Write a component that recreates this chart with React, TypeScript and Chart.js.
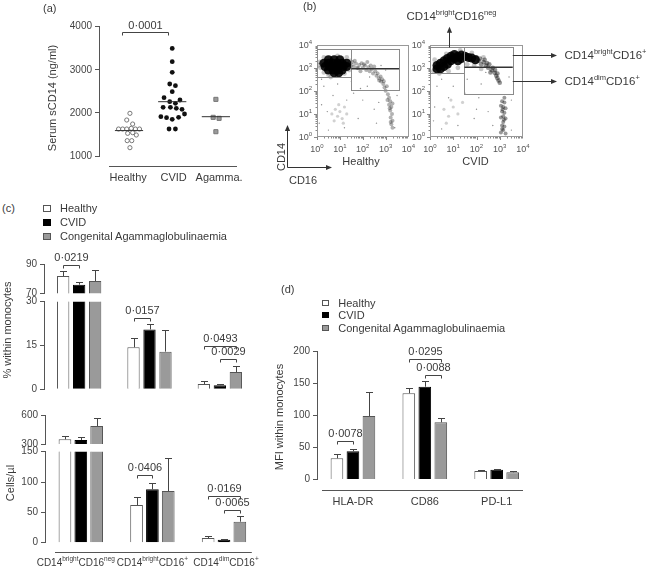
import React, { useEffect, useRef } from 'react';
import { Chart, registerables } from 'chart.js';

Chart.register(...registerables);

const FONT = "'Liberation Sans', Arial, Helvetica, sans-serif";
const TEXT = '#3a3a3a';
const TICK = '#444444';
const AXIS = '#555555';

/* ---------------- Panel (a): serum sCD14 ---------------- */
const aCategories = ['Healthy', 'CVID', 'Agamma.'];
const aYTicks = [1000, 2000, 3000, 4000];
const aHealthy = [1990, 1835, 1742, 1626, 1626, 1626, 1642, 1626, 1626, 1526, 1541, 1487, 1356, 1356, 1193];
const aHealthyJitter = [0.04, -0.03, 0.1, -0.21, -0.12, -0.03, 0.07, 0.16, 0.25, -0.01, 0.1, 0.18, -0.02, 0.08, 0.04];
const aCVID = [3497, 3188, 2941, 2670, 2631, 2492, 2353, 2299, 2260, 2222, 2129, 2129, 2106, 2083, 1912, 1889, 1851, 1897, 1974, 1626, 1626];
const aCVIDJitter = [-0.03, -0.03, -0.03, -0.085, 0.04, -0.03, -0.21, 0.14, -0.085, 0.04, -0.23, -0.07, 0.06, 0.185, -0.28, -0.155, -0.03, 0.11, 0.24, -0.1, 0.04];
const aAgamma = [2314, 1897, 1874, 1564];
const aAgammaJitter = [-0.07, -0.13, 0.0, -0.07];
const aMedians = [1590, 2260, 1912];
const aMedianShift = [0.02, -0.03, -0.07];
const aBrackets: [number, number, number, string][] = [[1, 2, 3870, '0·0001']];

/* ---------------- Panel (b): flow cytometry events as [log10 CD16, log10 CD14] ---------------- */
const bTickExponents = [0, 1, 2, 3, 4];

const bHealthyCore = [
  [0.5, 3.35], [0.75, 3.35], [1.0, 3.35],
  [0.3, 3.2], [0.5, 3.2], [0.7, 3.2], [0.9, 3.2], [1.1, 3.2], [1.3, 3.2],
  [0.35, 3.05], [0.55, 3.05], [0.75, 3.05], [0.95, 3.05], [1.15, 3.05], [1.3, 3.05],
  [0.5, 2.9], [0.7, 2.9], [0.9, 2.9], [1.1, 2.9],
  [0.75, 2.78], [0.95, 2.78],
];
const bHealthyHalo = [[0.12, 3.25], [0.15, 3.0], [0.3, 2.8], [0.5, 2.7], [1.2, 2.75], [1.4, 2.9], [1.45, 3.3], [1.3, 3.45], [0.3, 3.45], [0.9, 3.52], [0.6, 2.6], [1.5, 3.12], [0.05, 3.1]];
const bHealthyTail = [
  [1.55, 3.25], [1.6, 3.05], [1.7, 3.18], [1.8, 2.98], [1.85, 3.12], [1.95, 3.2], [2.0, 3.0], [2.1, 3.1], [2.15, 2.9], [2.25, 3.02],
  [2.3, 2.85], [2.4, 2.95], [2.45, 2.75], [2.55, 2.85], [2.6, 2.65], [2.65, 2.75], [2.7, 2.55], [2.78, 2.62], [2.8, 2.4], [2.85, 2.5],
  [2.9, 2.3], [2.95, 2.15], [3.0, 2.0], [3.05, 2.2], [3.1, 1.85], [3.15, 1.7], [3.2, 1.55], [3.15, 1.4], [3.25, 1.3], [3.2, 1.15],
  [3.28, 1.0], [3.22, 0.85], [3.3, 0.7], [3.25, 0.55], [3.3, 0.4], [3.18, 1.25], [3.3, 1.45], [2.2, 3.25], [1.9, 2.85], [2.5, 3.05],
  [1.65, 3.3], [1.75, 3.0], [2.05, 3.15], [2.35, 3.1], [2.72, 2.45], [2.92, 2.42], [3.08, 1.6], [3.22, 0.65],
];
const bHealthyLow = [[0.65, 1.0], [0.8, 1.2], [0.9, 0.9], [1.0, 1.1], [1.1, 0.8], [1.2, 1.3], [0.75, 0.7], [1.3, 1.0], [0.95, 1.4], [1.15, 0.6]];
const bHealthySparse = [[0.3, 2.2], [0.7, 1.8], [1.5, 2.4], [2.0, 1.6], [1.2, 0.4], [2.5, 1.2], [0.2, 1.4], [1.8, 0.8], [2.8, 3.1], [2.2, 2.2], [0.5, 0.3], [3.5, 1.8], [1.6, 1.9], [2.6, 0.6], [0.1, 0.6], [3.0, 2.9], [1.3, 1.6], [0.9, 2.3], [2.3, 2.6], [3.4, 0.4], [0.45, 1.1], [1.9, 2.1], [2.7, 1.5], [0.2, 2.5]];
const bHealthyGateA = [0, 1.5, 2.58, 3.83];
const bHealthyGateB = [1.5, 3.59, 2.02, 3.83];
const bHealthySplit = [2.96];

const bCVIDCore = [
  [0.3, 3.1], [0.45, 2.95], [0.45, 3.2], [0.6, 3.05], [0.6, 3.3], [0.75, 3.15], [0.75, 3.4], [0.9, 3.3], [0.9, 3.5], [1.05, 3.4],
  [1.05, 3.58], [1.2, 3.5], [1.35, 3.55], [1.35, 3.4], [1.5, 3.5], [1.65, 3.45], [1.8, 3.42], [1.95, 3.35], [0.3, 2.95], [1.2, 3.3],
];
const bCVIDHalo = [[0.15, 2.85], [0.4, 2.75], [0.8, 2.85], [1.2, 3.0], [1.6, 3.15], [1.9, 3.1], [2.2, 2.95], [0.7, 3.6], [1.3, 3.75], [1.8, 3.65], [2.3, 3.45], [0.2, 3.35]];
const bCVIDTail = [
  [2.1, 3.3], [2.2, 3.15], [2.3, 3.25], [2.4, 3.1], [2.5, 3.0], [2.55, 3.15], [2.65, 2.9], [2.7, 3.0], [2.78, 2.78], [2.85, 2.65],
  [2.9, 2.55], [2.95, 2.45], [3.0, 2.35], [2.0, 3.45], [2.6, 2.8], [2.8, 2.9], [2.15, 3.4], [2.35, 3.35], [2.45, 3.2], [2.9, 2.75],
];
const bCVIDStreak = [[3.1, 1.55], [3.2, 1.5], [3.05, 1.35], [3.15, 1.3], [3.25, 1.25], [3.1, 1.1], [3.2, 1.05], [3.15, 0.9], [3.05, 0.85], [3.25, 0.8], [3.15, 0.65], [3.1, 0.5], [3.2, 0.45], [3.15, 0.3], [3.05, 0.2], [3.25, 0.15], [3.2, 1.7], [3.12, 1.2], [3.18, 0.75], [3.1, 0.35]];
const bCVIDLow = [[0.6, 1.2], [0.8, 0.9], [1.0, 1.3], [1.2, 1.0], [0.7, 0.6], [1.4, 1.5], [0.9, 1.6]];
const bCVIDSparse = [[0.3, 2.2], [0.8, 1.7], [1.6, 2.5], [2.1, 1.7], [1.2, 0.5], [2.5, 1.1], [0.2, 1.3], [1.9, 0.8], [2.2, 2.3], [0.5, 0.35], [3.5, 1.6], [1.5, 1.9], [2.7, 0.5], [0.15, 0.7], [3.4, 2.6], [1.0, 2.2], [2.4, 2.8], [3.5, 0.3], [0.5, 2.5], [2.0, 1.2]];
const bCVIDGateA = [0, 1.48, 2.77, 3.88];
const bCVIDGateB = [1.48, 3.56, 1.88, 3.88];
const bCVIDSplit = [3.02];
const bPointerX = [0.8];
const bPointerLevels = [3.54, 2.44];

/* ---------------- Panels (c) and (d): bar charts ---------------- */
const seriesNames = ['Healthy', 'CVID', 'Congenital Agammaglobulinaemia'];
const seriesFill = ['#ffffff', '#000000', '#9a9a9a'];
const seriesBorder = ['#555555', '#000000', '#555555'];

const subsetCategories = ['CD14brightCD16neg', 'CD14brightCD16+', 'CD14dimCD16+'];
const subsetLabelParts = [['CD14', 'bright', 'CD16', 'neg'], ['CD14', 'bright', 'CD16', '+'], ['CD14', 'dim', 'CD16', '+']];

const pctHealthy = [81.8, 14.4, 1.8];
const pctHealthyErr = [3.4, 3.1, 1.0];
const pctCVID = [75.9, 20.5, 1.4];
const pctCVIDErr = [1.6, 1.8, 0.3];
const pctAgamma = [78.4, 12.9, 5.9];
const pctAgammaErr = [7.5, 7.4, 2.2];
const pctUpperTicks = [70, 90];
const pctLowerTicks = [0, 15, 30];
const pctBrackets: [number, number, number, number, string][] = [
  [0, 0, 1, 89.3, '0·0219'],
  [1, 0, 1, 24.3, '0·0157'],
  [2, 0, 2, 14.9, '0·0493'],
  [2, 1, 2, 10.4, '0·0029'],
];

const cellsHealthy = [348.6, 62.1, 7.7];
const cellsHealthyErr = [34, 13.2, 3.8];
const cellsCVID = [341.4, 88, 5];
const cellsCVIDErr = [27.6, 10.4, 1.6];
const cellsAgamma = [486, 85.2, 34.6];
const cellsAgammaErr = [80, 53.8, 9.4];
const cellsUpperTicks = [300, 600];
const cellsLowerTicks = [0, 50, 100, 150];
const cellsBrackets: [number, number, number, number, string][] = [
  [1, 0, 1, 111.6, '0·0406'],
  [2, 0, 2, 77.5, '0·0169'],
  [2, 1, 2, 53.9, '0·0065'],
];

const mfiCategories = ['HLA-DR', 'CD86', 'PD-L1'];
const mfiHealthy = [33, 134.2, 13.2];
const mfiHealthyErr = [6.7, 8.7, 1.6];
const mfiCVID = [43.9, 144.4, 15.3];
const mfiCVIDErr = [3.1, 8.9, 1.0];
const mfiAgamma = [98.8, 89, 11.2];
const mfiAgammaErr = [37.9, 6.3, 1.6];
const mfiTicks = [0, 50, 100, 150, 200];
const mfiBrackets: [number, number, number, number, string][] = [
  [0, 0, 1, 60, '0·0078'],
  [1, 0, 2, 187, '0·0295'],
  [1, 1, 2, 162.6, '0·0088'],
];

/* ---------------- helpers ---------------- */
type Box = { x: number; y: number; w: number; h: number };
type Area = { l: number; t: number; r: number; b: number };

function padFor(box: Box, area: Area, yW: number, xH: number) {
  return {
    left: area.l - box.x - yW,
    top: area.t - box.y,
    right: box.x + box.w - area.r,
    bottom: box.y + box.h - area.b - xH,
  };
}

const f = (size: number) => `${size}px ${FONT}`;

function drawRich(ctx: CanvasRenderingContext2D, parts: string[], x: number, y: number, size: number, sup: number, align: 'left' | 'center' | 'right', color: string) {
  ctx.save();
  const widths = parts.map((p, i) => {
    ctx.font = f(i % 2 ? sup : size);
    return ctx.measureText(p).width;
  });
  const total = widths.reduce((s, w) => s + w, 0);
  let cx = align === 'center' ? x - total / 2 : align === 'right' ? x - total : x;
  ctx.textAlign = 'left';
  ctx.textBaseline = 'middle';
  ctx.fillStyle = color;
  parts.forEach((p, i) => {
    ctx.font = f(i % 2 ? sup : size);
    ctx.fillText(p, cx, i % 2 ? y - size * 0.38 : y);
    cx += widths[i];
  });
  ctx.restore();
}

function arrowHead(ctx: CanvasRenderingContext2D, x: number, y: number, dir: 'up' | 'right') {
  const len = 6, half = 2.6;
  ctx.beginPath();
  if (dir === 'up') {
    ctx.moveTo(x, y); ctx.lineTo(x - half, y + len); ctx.lineTo(x + half, y + len);
  } else {
    ctx.moveTo(x, y); ctx.lineTo(x - len, y - half); ctx.lineTo(x - len, y + half);
  }
  ctx.closePath();
  ctx.fill();
}

function errorsPlugin(errors: number[][], max: number) {
  return {
    id: 'errorBars',
    afterDatasetsDraw(chart: any) {
      const { ctx, chartArea: a } = chart;
      const ys = chart.scales.y;
      ctx.save();
      ctx.beginPath();
      ctx.rect(a.left - 10, a.top - 1, a.right - a.left + 20, a.bottom - a.top + 1);
      ctx.clip();
      ctx.strokeStyle = '#444';
      ctx.lineWidth = 1;
      chart.data.datasets.forEach((ds: any, i: number) => {
        const meta = chart.getDatasetMeta(i);
        ds.data.forEach((v: number | null, j: number) => {
          if (v == null || v >= max) return;
          const el = meta.data[j];
          const x = Math.round(el.x) + 0.5;
          const y0 = ys.getPixelForValue(v);
          const y1 = Math.round(ys.getPixelForValue(v + errors[i][j])) + 0.5;
          ctx.beginPath();
          ctx.moveTo(x, y0);
          ctx.lineTo(x, y1);
          ctx.moveTo(x - 3.5, y1);
          ctx.lineTo(x + 3.5, y1);
          ctx.stroke();
        });
      });
      ctx.restore();
    },
  };
}

function bracketsPlugin(brackets: [number, number, number, number, string][], min: number, max: number) {
  return {
    id: 'brackets',
    afterDraw(chart: any) {
      const { ctx } = chart;
      const ys = chart.scales.y;
      ctx.save();
      ctx.strokeStyle = '#444';
      ctx.fillStyle = TEXT;
      ctx.lineWidth = 1;
      ctx.font = f(11);
      ctx.textAlign = 'center';
      ctx.textBaseline = 'middle';
      brackets
        .filter((b) => b[3] >= min && b[3] <= max)
        .forEach(([g, s1, s2, lvl, txt]) => {
          const x1 = Math.round(chart.getDatasetMeta(s1).data[g].x) + 0.5;
          const x2 = Math.round(chart.getDatasetMeta(s2).data[g].x) + 0.5;
          const py = Math.round(ys.getPixelForValue(lvl)) + 0.5;
          ctx.beginPath();
          ctx.moveTo(x1, py + 3);
          ctx.lineTo(x1, py);
          ctx.lineTo(x2, py);
          ctx.lineTo(x2, py + 3);
          ctx.stroke();
          ctx.fillText(txt, (x1 + x2) / 2, py - 8);
        });
      ctx.restore();
    },
  };
}

interface SegSpec {
  box: Box;
  area: Area;
  yW: number;
  xH?: number;
  categories: string[];
  values: number[][];
  errors: number[][];
  min: number;
  max: number;
  ticks: number[];
  catPct: number;
  barPct: number;
  brackets: [number, number, number, number, string][];
  xTicks?: boolean;
  xTickPad?: number;
  extra?: (chart: any) => void;
}

function buildBarSegment(s: SegSpec) {
  const xH = s.xH ?? 0;
  return {
    type: 'bar',
    data: {
      labels: s.categories,
      datasets: s.values.map((vals, i) => ({
        label: seriesNames[i],
        data: vals.map((v) => (v >= s.min ? v : null)),
        backgroundColor: seriesFill[i],
        borderColor: seriesBorder[i],
        borderWidth: 1,
        categoryPercentage: s.catPct,
        barPercentage: s.barPct,
        clip: { left: 10, right: 10, top: 0, bottom: 0 },
      })),
    },
    options: {
      animation: false,
      responsive: false,
      maintainAspectRatio: false,
      layout: { padding: padFor(s.box, s.area, s.yW, xH) },
      plugins: { legend: { display: false }, tooltip: { enabled: false } },
      scales: {
        x: s.xTicks
          ? {
              ticks: { font: { family: FONT, size: 11 }, color: TEXT, padding: s.xTickPad, maxRotation: 0, autoSkip: false },
              grid: { display: false, drawTicks: false },
              border: { display: false },
              afterFit: (sc: any) => { sc.height = xH; sc.paddingLeft = 0; sc.paddingRight = 0; },
            }
          : { display: false },
        y: {
          min: s.min,
          max: s.max,
          afterBuildTicks: (sc: any) => { sc.ticks = s.ticks.map((v) => ({ value: v })); },
          afterFit: (sc: any) => { sc.width = s.yW; sc.paddingTop = 0; sc.paddingBottom = 0; },
          ticks: { font: { family: FONT, size: 10 }, color: TICK, padding: 3, callback: (v: any) => String(v) },
          grid: { drawOnChartArea: false, drawTicks: true, tickLength: 4, color: AXIS },
          border: { display: true, color: AXIS, width: 1 },
        },
      },
    },
    plugins: [
      errorsPlugin(s.errors, s.max),
      bracketsPlugin(s.brackets, s.min, s.max),
      { id: 'extra', afterDraw: (c: any) => s.extra && s.extra(c) },
    ],
  };
}

function xAxisLine(chart: any, offset: number, insetL: number, insetR: number) {
  const { ctx, chartArea: a } = chart;
  ctx.save();
  ctx.strokeStyle = AXIS;
  ctx.lineWidth = 1;
  const ly = Math.round(a.bottom + offset) + 0.5;
  ctx.beginPath();
  ctx.moveTo(a.left + insetL, ly);
  ctx.lineTo(a.right - insetR, ly);
  ctx.stroke();
  ctx.restore();
}

/* ---------------- Panel (a) ---------------- */
const boxA: Box = { x: 0, y: 0, w: 262, h: 200 };
function buildA() {
  const area: Area = { l: 99, t: 26.7, r: 240, b: 156 };
  const xH = 44, yW = 45;
  const medianDs = aMedians.map((m, i) => ({
    label: aCategories[i] + ' median',
    data: [{ x: i + 1 + aMedianShift[i] - 0.31, y: m }, { x: i + 1 + aMedianShift[i] + 0.31, y: m }],
    showLine: true,
    borderColor: '#333',
    borderWidth: 1,
    pointRadius: 0,
    order: -1,
  }));
  return {
    type: 'scatter',
    data: {
      datasets: [
        ...medianDs,
        {
          label: 'Healthy',
          data: aHealthy.map((v, i) => ({ x: 1 + aHealthyJitter[i], y: v })),
          pointStyle: 'circle', pointRadius: 2.1, pointBackgroundColor: '#fff', pointBorderColor: '#777', pointBorderWidth: 1,
        },
        {
          label: 'CVID',
          data: aCVID.map((v, i) => ({ x: 2 + aCVIDJitter[i], y: v })),
          pointStyle: 'circle', pointRadius: 2.4, pointBackgroundColor: '#111', pointBorderColor: '#111', pointBorderWidth: 0,
        },
        {
          label: 'Agamma.',
          data: aAgamma.map((v, i) => ({ x: 3 + aAgammaJitter[i], y: v })),
          pointStyle: 'rect', pointRadius: 2.9, pointBackgroundColor: '#9a9a9a', pointBorderColor: '#777', pointBorderWidth: 1,
        },
      ],
    },
    options: {
      animation: false,
      responsive: false,
      maintainAspectRatio: false,
      layout: { padding: padFor(boxA, area, yW, xH) },
      plugins: { legend: { display: false }, tooltip: { enabled: false } },
      scales: {
        x: {
          type: 'linear',
          min: 0.36,
          max: 3.46,
          afterBuildTicks: (sc: any) => { sc.ticks = [1, 2, 3].map((v) => ({ value: v })); },
          afterFit: (sc: any) => { sc.height = xH; sc.paddingLeft = 0; sc.paddingRight = 0; },
          ticks: {
            callback: (v: any) => aCategories[Math.round(Number(v)) - 1],
            font: { family: FONT, size: 11 }, color: TEXT, padding: 15.4, maxRotation: 0, autoSkip: false,
          },
          grid: { display: false, drawTicks: false },
          border: { display: false },
        },
        y: {
          min: 1000,
          max: 4000,
          afterBuildTicks: (sc: any) => { sc.ticks = aYTicks.map((v) => ({ value: v })); },
          afterFit: (sc: any) => { sc.width = yW; sc.paddingTop = 0; sc.paddingBottom = 0; },
          ticks: { font: { family: FONT, size: 10 }, color: TICK, padding: 3, callback: (v: any) => String(v) },
          grid: { drawOnChartArea: false, drawTicks: true, tickLength: 4, color: AXIS },
          border: { display: true, color: AXIS },
        },
      },
    },
    plugins: [
      {
        id: 'aExtras',
        afterDraw(chart: any) {
          const { ctx, scales } = chart;
          xAxisLine(chart, 10, 10, 3);
          ctx.save();
          ctx.strokeStyle = '#444';
          ctx.fillStyle = TEXT;
          ctx.lineWidth = 1;
          ctx.font = f(11);
          ctx.textAlign = 'center';
          ctx.textBaseline = 'middle';
          aBrackets.forEach(([c1, c2, lvl, txt]) => {
            const x1 = Math.round(scales.x.getPixelForValue(c1 - 0.13)) + 0.5;
            const x2 = Math.round(scales.x.getPixelForValue(c2 - 0.13)) + 0.5;
            const py = Math.round(scales.y.getPixelForValue(lvl)) + 0.5;
            ctx.beginPath();
            ctx.moveTo(x1, py + 3); ctx.lineTo(x1, py); ctx.lineTo(x2, py); ctx.lineTo(x2, py + 3);
            ctx.stroke();
            ctx.fillText(txt, (x1 + x2) / 2, py - 7);
          });
          ctx.restore();
        },
      },
    ],
  };
}

/* ---------------- Panel (b) ---------------- */
type Layer = { pts: number[][]; r: number; color: string };
function buildFlow(box: Box, area: Area, layers: Layer[], gateA: number[], gateB: number[], split: number, extra: (c: any) => void) {
  return {
    type: 'scatter',
    data: {
      datasets: layers.map((ly, i) => ({
        label: 'events' + i,
        data: ly.pts.map(([lx, lyv]) => ({ x: Math.pow(10, lx), y: Math.pow(10, lyv) })),
        pointRadius: ly.r,
        pointBackgroundColor: ly.color,
        pointBorderWidth: 0,
        pointBorderColor: 'rgba(0,0,0,0)',
        order: layers.length - i,
      })),
    },
    options: {
      animation: false,
      responsive: false,
      maintainAspectRatio: false,
      layout: { padding: padFor(box, area, 0, 0) },
      plugins: { legend: { display: false }, tooltip: { enabled: false } },
      scales: {
        x: { type: 'logarithmic', min: 1, max: 10000, display: false },
        y: { type: 'logarithmic', min: 1, max: 10000, display: false },
      },
    },
    plugins: [
      {
        id: 'flowExtras',
        afterDraw(chart: any) {
          const { ctx, chartArea: a, scales } = chart;
          const px = (e: number) => scales.x.getPixelForValue(Math.pow(10, e));
          const py = (e: number) => scales.y.getPixelForValue(Math.pow(10, e));
          ctx.save();
          ctx.strokeStyle = '#999';
          ctx.lineWidth = 1;
          ctx.strokeRect(Math.round(a.left) + 0.5, Math.round(a.top) + 0.5, Math.round(a.right - a.left) - 1, Math.round(a.bottom - a.top) - 1);
          ctx.strokeStyle = '#888';
          ctx.beginPath();
          for (let k = 0; k < 4; k++) {
            for (let m = 1; m <= 9; m++) {
              const v = Math.log10(m * Math.pow(10, k));
              const len = m === 1 ? 3 : 1.5;
              const xx = Math.round(px(v)) + 0.5;
              ctx.moveTo(xx, a.bottom); ctx.lineTo(xx, a.bottom + len);
              const yy = Math.round(py(v)) + 0.5;
              ctx.moveTo(a.left, yy); ctx.lineTo(a.left - len, yy);
            }
          }
          ctx.stroke();
          ctx.strokeStyle = '#8a8a8a';
          const rect = (g: number[]) => {
            const x0 = Math.round(px(g[0])) + 0.5, x1 = Math.round(px(g[1])) + 0.5;
            const y0 = Math.round(py(g[3])) + 0.5, y1 = Math.round(py(g[2])) + 0.5;
            ctx.strokeRect(x0, y0, x1 - x0, y1 - y0);
          };
          rect(gateA);
          rect(gateB);
          ctx.strokeStyle = '#333';
          ctx.lineWidth = 1.4;
          ctx.beginPath();
          ctx.moveTo(px(gateB[0]), py(split));
          ctx.lineTo(px(gateB[1]), py(split));
          ctx.stroke();
          bTickExponents.forEach((e) => {
            ctx.font = f(9);
            const w1 = ctx.measureText('10').width;
            ctx.font = f(6);
            const w2 = ctx.measureText(String(e)).width;
            drawRich(ctx, ['10', String(e)], px(e) - (w1 + w2) / 2, a.bottom + 12.5, 9, 6, 'left', '#555');
            drawRich(ctx, ['10', String(e)], a.left - 5, py(e) + 1, 9, 6, 'right', '#555');
          });
          ctx.restore();
          extra(chart);
        },
      },
    ],
  };
}

const boxB1: Box = { x: 270, y: 0, w: 150, h: 200 };
const boxB2: Box = { x: 400, y: 0, w: 247, h: 200 };
function buildB1() {
  const area: Area = { l: 317, t: 44.7, r: 408.5, b: 137 };
  return buildFlow(
    boxB1,
    area,
    [
      { pts: bHealthySparse, r: 0.7, color: 'rgba(0,0,0,0.45)' },
      { pts: bHealthyLow, r: 1.6, color: 'rgba(0,0,0,0.18)' },
      { pts: bHealthyHalo, r: 2.4, color: 'rgba(0,0,0,0.22)' },
      { pts: bHealthyTail, r: 2, color: 'rgba(0,0,0,0.3)' },
      { pts: bHealthyCore, r: 4.5, color: 'rgba(0,0,0,0.9)' },
    ],
    bHealthyGateA,
    bHealthyGateB,
    bHealthySplit[0],
    (chart: any) => {
      const { ctx, chartArea: a } = chart;
      ctx.save();
      ctx.strokeStyle = '#333';
      ctx.fillStyle = '#333';
      ctx.lineWidth = 1;
      const ox = Math.round(a.left - 30.3) + 0.5;
      const oy = Math.round(a.bottom + 29.7) + 0.5;
      ctx.beginPath();
      ctx.moveTo(ox, oy); ctx.lineTo(ox, a.bottom - 10);
      ctx.moveTo(ox, oy); ctx.lineTo(a.left + 13, oy);
      ctx.stroke();
      arrowHead(ctx, ox, a.bottom - 12, 'up');
      arrowHead(ctx, a.left + 15, oy, 'right');
      ctx.restore();
    }
  );
}
function buildB2() {
  const area: Area = { l: 430, t: 44.7, r: 523, b: 137 };
  return buildFlow(
    boxB2,
    area,
    [
      { pts: bCVIDSparse, r: 0.7, color: 'rgba(0,0,0,0.45)' },
      { pts: bCVIDLow, r: 1.6, color: 'rgba(0,0,0,0.18)' },
      { pts: bCVIDHalo, r: 2.4, color: 'rgba(0,0,0,0.22)' },
      { pts: bCVIDStreak, r: 2, color: 'rgba(0,0,0,0.4)' },
      { pts: bCVIDTail, r: 2.3, color: 'rgba(0,0,0,0.42)' },
      { pts: bCVIDCore, r: 4.5, color: 'rgba(0,0,0,0.9)' },
    ],
    bCVIDGateA,
    bCVIDGateB,
    bCVIDSplit[0],
    (chart: any) => {
      const { ctx, chartArea: a, scales } = chart;
      const px = (e: number) => scales.x.getPixelForValue(Math.pow(10, e));
      const py = (e: number) => scales.y.getPixelForValue(Math.pow(10, e));
      ctx.save();
      ctx.strokeStyle = '#333';
      ctx.fillStyle = '#333';
      ctx.lineWidth = 1;
      const ux = Math.round(px(bPointerX[0])) + 0.5;
      ctx.beginPath();
      ctx.moveTo(ux, py(bCVIDGateA[3]));
      ctx.lineTo(ux, a.top - 15);
      ctx.stroke();
      arrowHead(ctx, ux, a.top - 18, 'up');
      drawRich(ctx, ['CD14', 'bright', 'CD16', 'neg'], ux + 2, a.top - 27.4, 11.5, 7.5, 'center', TEXT);
      bPointerLevels.forEach((lv, i) => {
        const yy = Math.round(py(lv)) + 0.5;
        const x0 = px(bCVIDGateB[1]);
        const x1 = a.right + 34;
        ctx.beginPath();
        ctx.moveTo(x0, yy);
        ctx.lineTo(x1 - 4, yy);
        ctx.stroke();
        arrowHead(ctx, x1, yy, 'right');
        drawRich(ctx, i === 0 ? ['CD14', 'bright', 'CD16', '+'] : ['CD14', 'dim', 'CD16', '+'], x1 + 7.5, yy + 0.5, 11.5, 7.5, 'left', TEXT);
      });
      ctx.restore();
    }
  );
}

/* ---------------- Panel (c) ---------------- */
const pctValues = [pctHealthy, pctCVID, pctAgamma];
const pctErrors = [pctHealthyErr, pctCVIDErr, pctAgammaErr];
const cellsValues = [cellsHealthy, cellsCVID, cellsAgamma];
const cellsErrors = [cellsHealthyErr, cellsCVIDErr, cellsAgammaErr];

const boxC1t: Box = { x: 0, y: 245, w: 262, h: 58 };
const boxC1b: Box = { x: 0, y: 290, w: 262, h: 106 };
const boxC2t: Box = { x: 0, y: 400, w: 266, h: 52 };
const boxC2b: Box = { x: 0, y: 440, w: 266, h: 130 };

const cUpperArea = { l: 44, r: 255 };
const cLowerArea = { l: 45, r: 259.8 };
const cLabelNudge = [-5, 0, 2];

function buildC1t() {
  return buildBarSegment({
    box: boxC1t, area: { ...cUpperArea, t: 264, b: 293.3 }, yW: 44,
    categories: subsetCategories, values: pctValues, errors: pctErrors,
    min: 70, max: 90, ticks: pctUpperTicks, catPct: 0.682, barPct: 0.77, brackets: pctBrackets,
  });
}
function buildC1b() {
  return buildBarSegment({
    box: boxC1b, area: { ...cUpperArea, t: 301.7, b: 389.3 }, yW: 44,
    categories: subsetCategories, values: pctValues, errors: pctErrors,
    min: 0, max: 30, ticks: pctLowerTicks, catPct: 0.682, barPct: 0.77, brackets: pctBrackets,
  });
}
function buildC2t() {
  return buildBarSegment({
    box: boxC2t, area: { ...cLowerArea, t: 415, b: 444 }, yW: 45,
    categories: subsetCategories, values: cellsValues, errors: cellsErrors,
    min: 300, max: 600, ticks: cellsUpperTicks, catPct: 0.664, barPct: 0.8, brackets: cellsBrackets,
  });
}
function buildC2b() {
  return buildBarSegment({
    box: boxC2b, area: { ...cLowerArea, t: 451.7, b: 542.7 }, yW: 45,
    categories: subsetCategories, values: cellsValues, errors: cellsErrors,
    min: 0, max: 150, ticks: cellsLowerTicks, catPct: 0.664, barPct: 0.8, brackets: cellsBrackets,
    extra: (chart: any) => {
      xAxisLine(chart, 9, 10, 8);
      const { ctx, chartArea: a, scales } = chart;
      subsetLabelParts.forEach((parts, i) => {
        drawRich(ctx, parts, scales.x.getPixelForValue(i) + cLabelNudge[i], a.bottom + 20.5, 10, 6.5, 'center', TEXT);
      });
    },
  });
}

/* ---------------- Panel (d) ---------------- */
const boxD: Box = { x: 280, y: 340, w: 262, h: 176 };
function buildD() {
  const area: Area = { l: 317, t: 351, r: 532.6, b: 479.5 };
  return buildBarSegment({
    box: boxD, area, yW: 37, xH: boxD.y + boxD.h - area.b,
    categories: mfiCategories,
    values: [mfiHealthy, mfiCVID, mfiAgamma],
    errors: [mfiHealthyErr, mfiCVIDErr, mfiAgammaErr],
    min: 0, max: 200, ticks: mfiTicks, catPct: 0.668, barPct: 0.79, brackets: mfiBrackets,
    xTicks: true, xTickPad: 15.6,
    extra: (chart: any) => xAxisLine(chart, 10.5, 5, 9.6),
  });
}

/* ---------------- React ---------------- */
function ChartCanvas({ box, build }: { box: Box; build: () => any }) {
  const ref = useRef<HTMLCanvasElement>(null);
  useEffect(() => {
    const chart = new Chart(ref.current as HTMLCanvasElement, build());
    return () => chart.destroy();
  }, []);
  return (
    <canvas
      ref={ref}
      width={box.w}
      height={box.h}
      style={{ position: 'absolute', left: box.x, top: box.y, width: box.w, height: box.h }}
    />
  );
}

function Label({ x, y, text, size = 11, align = 'left', rotate = false }: { x: number; y: number; text: React.ReactNode; size?: number; align?: 'left' | 'center'; rotate?: boolean }) {
  const tx = align === 'left' ? '0' : '-50%';
  return (
    <div
      style={{
        position: 'absolute', left: x, top: y,
        transform: rotate ? 'translate(-50%,-50%) rotate(-90deg)' : `translate(${tx},-50%)`,
        fontSize: size, lineHeight: 1, whiteSpace: 'nowrap', color: TEXT, fontFamily: FONT,
      }}
    >
      {text}
    </div>
  );
}

function Legend({ x, ys, textX, sw, sh }: { x: number; ys: number[]; textX: number; sw: number; sh: number }) {
  return (
    <>
      {seriesNames.map((n, i) => (
        <React.Fragment key={n}>
          <div
            style={{
              position: 'absolute', left: x, top: ys[i] - sh / 2, width: sw - 2, height: sh - 2,
              background: seriesFill[i], border: `1px solid ${seriesBorder[i]}`,
            }}
          />
          <Label x={textX} y={ys[i]} text={n} />
        </React.Fragment>
      ))}
    </>
  );
}

export default function App() {
  return (
    <div style={{ position: 'absolute', left: 0, top: 0, width: 647, height: 570, background: '#fff', overflow: 'hidden', fontFamily: FONT }}>
      <ChartCanvas box={boxA} build={buildA} />
      <ChartCanvas box={boxB1} build={buildB1} />
      <ChartCanvas box={boxB2} build={buildB2} />
      <ChartCanvas box={boxC1t} build={buildC1t} />
      <ChartCanvas box={boxC1b} build={buildC1b} />
      <ChartCanvas box={boxC2t} build={buildC2t} />
      <ChartCanvas box={boxC2b} build={buildC2b} />
      <ChartCanvas box={boxD} build={buildD} />

      <Label x={43} y={8} text="(a)" />
      <Label x={303} y={6} text="(b)" />
      <Label x={2} y={208} text="(c)" />
      <Label x={281} y={289} text="(d)" />

      <Label x={52} y={97.5} text="Serum sCD14 (ng/ml)" rotate />
      <Label x={361} y={161} text="Healthy" align="center" />
      <Label x={475.5} y={161} text="CVID" align="center" />
      <Label x={280.5} y={157} text="CD14" rotate />
      <Label x={303} y={180} text="CD16" align="center" />

      <Label x={7} y={329.5} text="% within monocytes" rotate />
      <Label x={10} y={483} text="Cells/µl" rotate />
      <Label x={279} y={417} text="MFI within monocytes" rotate />

      <Legend x={43} ys={[208.3, 222.3, 236]} textX={60} sw={8} sh={7} />
      <Legend x={321.5} ys={[303.3, 315, 327.7]} textX={338.3} sw={7} sh={6} />
    </div>
  );
}
